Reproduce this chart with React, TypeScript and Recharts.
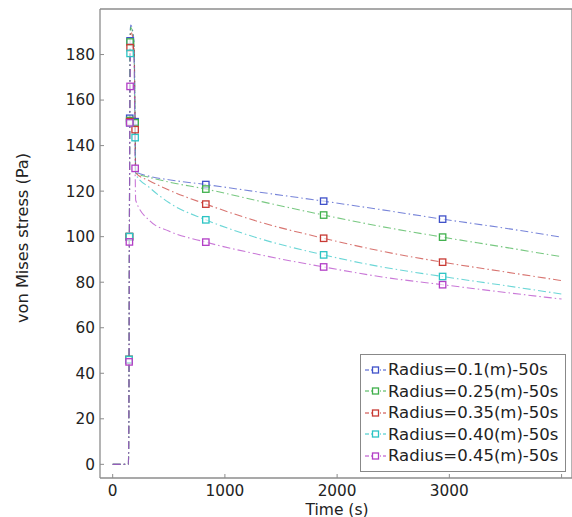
import { LineChart, Line, XAxis, YAxis, Legend } from 'recharts';

const time = [0, 140, 146, 149, 152, 155, 160, 190, 200, 205, 330, 500, 830, 1300, 1880, 2400, 2940, 3500, 4000];

const r010 = [0, 0, 46, 100, 152, 186, 193, 186, 150.5, 128.5, 126.5, 125, 122.9, 119.6, 115.6, 111.8, 107.7, 103.7, 99.8];
const r025 = [0, 0, 46, 100, 151, 185.5, 192, 185, 150, 128, 126, 124, 120.9, 115.7, 109.5, 104.4, 99.8, 95.3, 91.2];
const r035 = [0, 0, 46, 100, 150.5, 183, 190, 183, 147, 128, 124.5, 120.5, 114.3, 106.6, 99.3, 93.6, 88.8, 84.5, 80.7];
const r040 = [0, 0, 46, 100, 150, 180.5, 188, 181, 143.5, 127.5, 121.5, 115, 107.4, 99.3, 92.0, 86.7, 82.5, 78.5, 74.8];
const r045 = [0, 0, 45, 97.7, 150, 166, 185, 178, 130, 116, 107, 102.5, 97.6, 92.2, 86.7, 82.3, 78.9, 75.5, 72.6];

// indices of samples that carry a square marker
const markedIdx = [2, 3, 4, 5, 8, 12, 14, 16];

const seriesKeys = ['r010', 'r025', 'r035', 'r040', 'r045'];
const seriesNames = [
  'Radius=0.1(m)-50s',
  'Radius=0.25(m)-50s',
  'Radius=0.35(m)-50s',
  'Radius=0.40(m)-50s',
  'Radius=0.45(m)-50s',
];
const seriesColors = ['#3f51c9', '#3fb04c', '#c83a34', '#2cc4c4', '#b23ec6'];

const xTicks = [0, 1000, 2000, 3000, 4000];
const yTicks = [0, 20, 40, 60, 80, 100, 120, 140, 160, 180];

const data = time.map((t, i) => ({
  t,
  r010: r010[i],
  r025: r025[i],
  r035: r035[i],
  r040: r040[i],
  r045: r045[i],
}));

const FONT = '"DejaVu Sans", sans-serif';
const AXIS = '#8c8c8c';
const DASH = '8 3 1.5 3';

function squareDot(color: string, key: string) {
  return (props: any) => {
    const { cx, cy, index } = props;
    if (!markedIdx.includes(index) || cx == null || cy == null) {
      return <g key={`${key}-${index}`} />;
    }
    return (
      <rect
        key={`${key}-${index}`}
        x={cx - 3.2}
        y={cy - 3.2}
        width={6.4}
        height={6.4}
        fill="#fff"
        fillOpacity={0.6}
        stroke={color}
        strokeWidth={1.3}
      />
    );
  };
}

const renderLegend = () => (
  <div
    style={{
      background: '#fff',
      border: '1px solid #888',
      padding: '4px 7px 4px 4px',
      fontFamily: FONT,
      fontSize: 16.5,
      lineHeight: '21.5px',
      color: '#222',
      whiteSpace: 'nowrap',
    }}
  >
    {seriesNames.map((n, i) => (
      <div key={n} style={{ display: 'flex', alignItems: 'center' }}>
        <svg width={21} height={12} style={{ flex: 'none' }}>
          <line x1={0} y1={6} x2={21} y2={6} stroke={seriesColors[i]} strokeWidth={1} strokeDasharray="4 2 1 2" />
          <rect x={7.5} y={3} width={6} height={6} fill="#fff" stroke={seriesColors[i]} strokeWidth={1.3} />
        </svg>
        <span style={{ marginLeft: 2 }}>{n}</span>
      </div>
    ))}
  </div>
);

const YLabel = (props: any) => {
  const vb = props.viewBox || { x: 0, y: 0, width: 0, height: 0 };
  const x = vb.x + 28;
  const y = vb.y + vb.height / 2 - 5.5;
  return (
    <text
      x={x}
      y={y}
      transform={`rotate(-90, ${x}, ${y})`}
      textAnchor="middle"
      fontSize={16.2}
      fill="#222"
      fontFamily={FONT}
    >
      von Mises stress (Pa)
    </text>
  );
};

const XLabel = (props: any) => {
  const vb = props.viewBox || { x: 0, y: 0, width: 0, height: 0 };
  return (
    <text x={vb.x + vb.width / 2 + 1} y={vb.y + vb.height - 2.5} textAnchor="middle" fontSize={15.5} fill="#222" fontFamily={FONT}>
      Time (s)
    </text>
  );
};

export default function App() {
  return (
    <div style={{ position: 'absolute', left: 0, top: 0, background: '#fff' }}>
      <LineChart width={572} height={517} data={data} margin={{ top: 9, right: 0, bottom: 0, left: 0 }}>
        <XAxis
          xAxisId="x"
          dataKey="t"
          type="number"
          domain={[-113, 4093]}
          ticks={xTicks}
          allowDataOverflow
          height={39}
          tickSize={-4}
          tickMargin={11.5}
          tickFormatter={(v) => (v === 4000 ? '' : String(v))}
          stroke={AXIS}
          tick={{ fontSize: 15.3, fill: '#222', fontFamily: FONT }}
          axisLine={{ stroke: AXIS, strokeWidth: 1.3 }}
          tickLine={{ stroke: AXIS }}
          label={<XLabel />}
        />
        <XAxis
          xAxisId="top"
          type="number"
          orientation="top"
          mirror
          domain={[-113, 4093]}
          ticks={xTicks}
          allowDataOverflow
          tickSize={4}
          tick={false}
          stroke={AXIS}
          axisLine={{ stroke: AXIS, strokeWidth: 1.3 }}
          tickLine={{ stroke: AXIS }}
        />
        <YAxis
          yAxisId="y"
          type="number"
          domain={[-6, 200]}
          ticks={yTicks}
          allowDataOverflow
          width={100}
          tickSize={-4}
          tickMargin={9}
          stroke={AXIS}
          tick={{ fontSize: 15.3, fill: '#222', fontFamily: FONT }}
          axisLine={{ stroke: AXIS, strokeWidth: 1.3 }}
          tickLine={{ stroke: AXIS }}
          label={<YLabel />}
        />
        <YAxis
          yAxisId="right"
          type="number"
          orientation="right"
          mirror
          domain={[-6, 200]}
          ticks={yTicks}
          allowDataOverflow
          tickSize={4}
          tick={false}
          stroke={AXIS}
          axisLine={{ stroke: AXIS, strokeWidth: 1.3 }}
          tickLine={{ stroke: AXIS }}
        />
        {seriesKeys.map((k, i) => (
          <Line
            key={k}
            xAxisId="x"
            yAxisId="y"
            type="monotone"
            dataKey={k}
            name={seriesNames[i]}
            stroke={seriesColors[i]}
            strokeOpacity={0.7}
            strokeWidth={1.1}
            strokeDasharray={DASH}
            dot={squareDot(seriesColors[i], k)}
            activeDot={false}
            isAnimationActive={false}
          />
        ))}
        <Legend
          layout="vertical"
          align="center"
          verticalAlign="middle"
          content={renderLegend}
          wrapperStyle={{ position: 'absolute', left: 360, top: 354, width: 'auto', height: 'auto' }}
        />
      </LineChart>
    </div>
  );
}
